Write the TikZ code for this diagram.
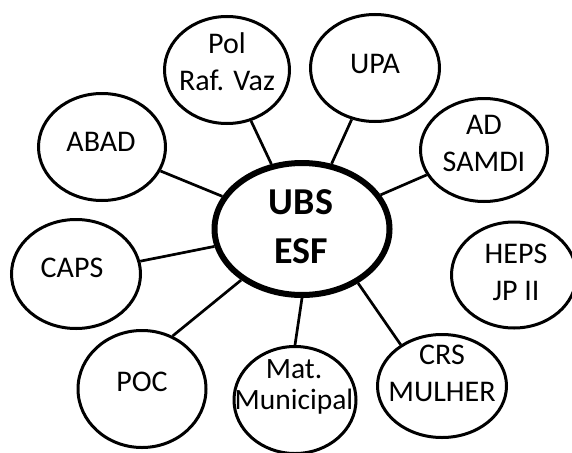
\documentclass[tikz,border=0pt]{standalone}
\usepackage{fontspec}
\setmainfont{Carlito}
\usetikzlibrary{shapes.geometric}

\tikzset{
    sat/.style={ellipse, draw, line width=3pt, inner sep=0pt},
    hub/.style={ellipse, draw, line width=6pt, inner sep=0pt,
        minimum width=175pt, minimum height=132pt},
    lbl/.style={align=center, inner sep=0pt, font=\fontsize{30}{37}\selectfont},
    link/.style={line width=2.7pt}
}

\begin{document}
\begin{tikzpicture}[x=1pt,y=-1pt]
    \useasboundingbox (0,0) rectangle (572,452);

    % centre
    \node[hub] (ubs) at (302,229) {};
    \node[lbl, font=\fontsize{38}{49}\selectfont\bfseries] (ubst) at (301,227) {UBS\\ESF};

    % satellites
    \node[sat, minimum width=125pt, minimum height=107pt] (pol) at (227,70) {};
    \node[lbl] (polt) at (227,62) {Pol\\Raf. Vaz};
    \node[sat, minimum width=129pt, minimum height=107pt] (upa) at (375,68) {};
    \node[lbl] (upat) at (375,64) {UPA};
    \node[sat, minimum width=127pt, minimum height=107pt] (abad) at (102,147) {};
    \node[lbl] (abadt) at (101,142) {ABAD};
    \node[sat, minimum width=127pt, minimum height=103pt] (samdi) at (484,150) {};
    \node[lbl] (samdit) at (484,143) {AD\\SAMDI};
    \node[sat, minimum width=129pt, minimum height=109pt] (caps) at (76,274) {};
    \node[lbl] (capst) at (72,268) {CAPS};
    \node[sat, minimum width=128pt, minimum height=117pt] (poc) at (142,389) {};
    \node[lbl] (poct) at (142,382) {POC};
    \node[sat, minimum width=125pt, minimum height=106pt] (heps) at (514,275) {};
    \node[lbl] (hepst) at (516,272) {HEPS\\JP II};
    \node[sat, minimum width=129pt, minimum height=103pt] (crs) at (442,386) {};
    \node[lbl] (crst) at (442,373) {CRS\\MULHER};
    \node[sat, minimum width=122pt, minimum height=107pt] (mat) at (295,400) {};
    \node[lbl, font=\fontsize{29.5}{31}\selectfont] (matt) at (294,387) {Mat.\\Municipal};

    % links
    \draw[link] (pol) -- (ubs);
    \draw[link] (upa) -- (ubs);
    \draw[link] (abad) -- (ubs);
    \draw[link] (samdi) -- (ubs);
    \draw[link] (caps) -- (ubs);
    \draw[link] (poc.60) -- (ubs.-140);
    \draw[link] (mat.north) -- (ubs.south);
    \draw[link] (crs.135) -- (ubs.-44);

\end{tikzpicture}
\end{document}
